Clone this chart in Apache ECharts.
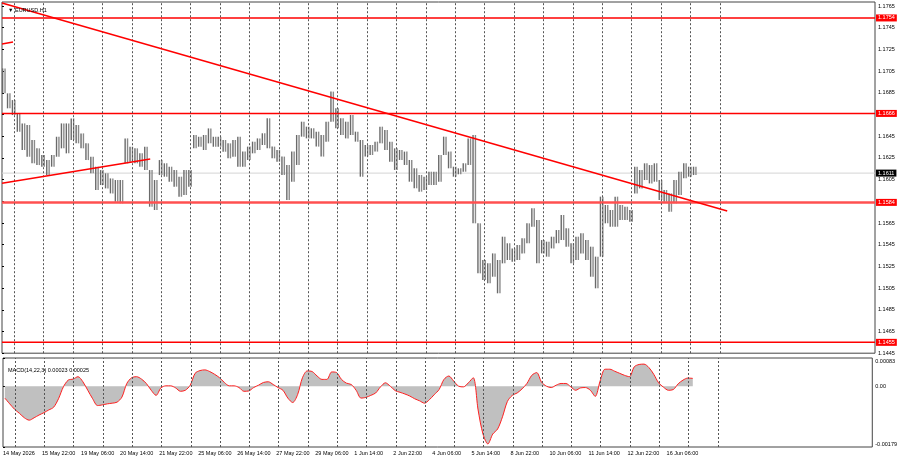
<!DOCTYPE html>
<html>
<head>
<meta charset="utf-8">
<script src="https://cdn.jsdelivr.net/npm/echarts@6/dist/echarts.min.js"></script>
<style>
  html, body { margin: 0; padding: 0; background: #fff; }
  #chart { width: 900px; height: 460px; }
</style>
</head>
<body>
<div id="chart"></div>
<script>
// EURUSD H1 in 4-bar blocks (high / low of each block)
const blockHigh = [
  1.17075, 1.16845, 1.16783, 1.16661, 1.16568, 1.16553, 1.16415, 1.16338, 1.16277, 1.16230,
  1.16277, 1.16445, 1.16568, 1.16568, 1.16614, 1.16553, 1.16476, 1.16384, 1.16261, 1.16169,
  1.16138, 1.16108, 1.16061, 1.16046, 1.16046, 1.16430, 1.16353, 1.16338, 1.16292, 1.16353,
  1.16138, 1.16046, 1.16230, 1.16200, 1.16169, 1.16138, 1.16077, 1.16138, 1.16138, 1.16461,
  1.16445, 1.16461, 1.16522, 1.16445, 1.16445, 1.16415, 1.16384, 1.16415, 1.16445, 1.16308,
  1.16354, 1.16400, 1.16430, 1.16477, 1.16615, 1.16354, 1.16323, 1.16262, 1.16185, 1.16308,
  1.16461, 1.16584, 1.16538, 1.16523, 1.16492, 1.16461, 1.16584, 1.16861, 1.16707, 1.16615,
  1.16584, 1.16646, 1.16492, 1.16415, 1.16369, 1.16369, 1.16400, 1.16538, 1.16507, 1.16400,
  1.16338, 1.16323, 1.16308, 1.16231, 1.16154, 1.16093, 1.16077, 1.16123, 1.16123, 1.16277,
  1.16446, 1.16308, 1.16169, 1.16154, 1.16200, 1.16430, 1.16461, 1.15647, 1.15309, 1.15278,
  1.15370, 1.15309, 1.15524, 1.15463, 1.15416, 1.15447, 1.15509, 1.15647, 1.15785, 1.15678,
  1.15493, 1.15478, 1.15524, 1.15585, 1.15724, 1.15601, 1.15463, 1.15524, 1.15555, 1.15493,
  1.15432, 1.15340, 1.15893, 1.15816, 1.15770, 1.15893, 1.15816, 1.15800, 1.15770, 1.16169,
  1.16138, 1.16200, 1.16184, 1.16200, 1.16046, 1.15954, 1.15923, 1.16046, 1.16123, 1.16200,
  1.16169, 1.16169
];
const blockLow = [
  1.16845, 1.16707, 1.16645, 1.16491, 1.16323, 1.16261, 1.16200, 1.16184, 1.16169, 1.16092,
  1.16169, 1.16261, 1.16338, 1.16292, 1.16415, 1.16384, 1.16338, 1.16230, 1.16108, 1.15954,
  1.16000, 1.15969, 1.15923, 1.15846, 1.15831, 1.16200, 1.16215, 1.16200, 1.16169, 1.16138,
  1.15800, 1.15770, 1.16092, 1.16077, 1.16031, 1.15985, 1.15892, 1.15908, 1.15985, 1.16338,
  1.16353, 1.16323, 1.16384, 1.16353, 1.16353, 1.16307, 1.16246, 1.16261, 1.16169, 1.16169,
  1.16231, 1.16292, 1.16323, 1.16369, 1.16338, 1.16246, 1.16215, 1.16093, 1.15862, 1.16031,
  1.16185, 1.16446, 1.16430, 1.16430, 1.16354, 1.16262, 1.16400, 1.16584, 1.16523, 1.16461,
  1.16430, 1.16461, 1.16400, 1.16077, 1.16262, 1.16277, 1.16308, 1.16384, 1.16323, 1.16215,
  1.16139, 1.16231, 1.16185, 1.16031, 1.15970, 1.15939, 1.15954, 1.16000, 1.16000, 1.16031,
  1.16277, 1.16154, 1.16077, 1.16099, 1.16123, 1.16185, 1.15647, 1.15186, 1.15125, 1.15094,
  1.15155, 1.15002, 1.15278, 1.15309, 1.15294, 1.15309, 1.15370, 1.15463, 1.15616, 1.15278,
  1.15370, 1.15340, 1.15416, 1.15463, 1.15493, 1.15432, 1.15278, 1.15309, 1.15370, 1.15309,
  1.15155, 1.15048, 1.15340, 1.15647, 1.15616, 1.15616, 1.15678, 1.15678, 1.15662, 1.15923,
  1.15969, 1.16046, 1.16015, 1.16031, 1.15862, 1.15847, 1.15754, 1.15831, 1.15908, 1.16062,
  1.16077, 1.16092
];
// MACD main line, same 4-bar blocks
const macdMain = [
  -0.00035, -0.00052, -0.00068, -0.00080, -0.00093, -0.00100, -0.00093, -0.00085, -0.00078, -0.00070,
  -0.00062, -0.00037, -0.00002, 0.00018, 0.00021, 0.00028, 0.00013, -0.00012, -0.00037, -0.00057,
  -0.00055, -0.00052, -0.00050, -0.00047, -0.00032, 0.00008, 0.00025, 0.00028, 0.00021, 0.00008,
  -0.00012, -0.00027, -0.00005, 0.00001, 0.00001, -0.00005, -0.00015, -0.00012, 0.00003, 0.00038,
  0.00046, 0.00048, 0.00043, 0.00035, 0.00025, 0.00011, 0.00001, 0.00001, -0.00004, -0.00015,
  -0.00014, -0.00004, 0.00003, 0.00011, 0.00013, 0.00005, -0.00004, -0.00012, -0.00035, -0.00048,
  -0.00025, 0.00025, 0.00045, 0.00043, 0.00030, 0.00020, 0.00020, 0.00042, 0.00040, 0.00020,
  0.00009, 0.00005, -0.00012, -0.00035, -0.00033, -0.00027, -0.00020, -0.00002, 0.00010, 0.00000,
  -0.00013, -0.00018, -0.00023, -0.00029, -0.00037, -0.00043, -0.00050, -0.00040, -0.00025, -0.00010,
  0.00020, 0.00030, 0.00015, 0.00000, -0.00002, 0.00010, 0.00025, -0.00070, -0.00141, -0.00170,
  -0.00141, -0.00126, -0.00090, -0.00045, -0.00027, -0.00020, -0.00008, 0.00008, 0.00032, 0.00040,
  0.00012, 0.00000, -0.00004, 0.00003, 0.00008, 0.00008, -0.00002, -0.00012, -0.00005, -0.00004,
  -0.00012, -0.00030, 0.00015, 0.00050, 0.00050, 0.00044, 0.00038, 0.00032, 0.00028, 0.00057,
  0.00064, 0.00065, 0.00055, 0.00035, 0.00010, -0.00003, -0.00012, -0.00010, 0.00007, 0.00018,
  0.00024, 0.00023
];
// one label every 32 H1 bars
const timeLabels = [
  '14 May 2026', '15 May 22:00', '19 May 06:00', '20 May 14:00', '21 May 22:00', '25 May 06:00',
  '26 May 14:00', '27 May 22:00', '29 May 06:00', '1 Jun 14:00', '2 Jun 22:00', '4 Jun 06:00',
  '5 Jun 14:00', '8 Jun 22:00', '10 Jun 06:00', '11 Jun 14:00', '12 Jun 22:00', '16 Jun 06:00'
];
// bar index of each day separator
const daySeparators = [10, 34, 58, 82, 106, 130, 154, 178, 202, 226, 250, 274, 298, 322, 346,
  370, 394, 418, 442, 466, 490, 514, 538, 562, 586];
const levels = [1.1754, 1.1666, 1.1584, 1.1455];
const lastPrice = 1.1611;
const macdLabel = 'MACD(14,22,3) 0.00023 0.00025';
// trend lines: [bar index, price]
const trendDown = [[0, 1.17678], [592, 1.15761]];
const trendUp = [[0, 1.16016], [121, 1.16240]];
const trendStub = [[0, 1.17300], [9, 1.17318]];

const BLOCK = 4;
const X_MAX = 712.65;
const FONT = 'Liberation Sans';
const SMALL = 5.5;

const bars = blockHigh.map((h, i) => [i * BLOCK + 1.5, blockLow[i], h]);
const macd = macdMain.map((v, i) => [i * BLOCK + 1.5, v]);

const chart = echarts.init(document.getElementById('chart'));

const sepLine = {
  silent: true,
  symbol: ['none', 'none'],
  label: { show: false },
  lineStyle: { type: [2, 2], color: '#555', width: 1 },
  data: daySeparators.map(v => ({ xAxis: v }))
};

// horizontal line across the pane with its price box on the scale
const hLine = (value, color, width, boxColor, z) => ({
  type: 'line', xAxisIndex: 0, yAxisIndex: 0, z: z, clip: false,
  data: [[0, value], [X_MAX, value]],
  symbol: 'none', silent: true,
  lineStyle: { color: color, width: width },
  endLabel: {
    show: true, distance: 1, formatter: value.toFixed(4),
    color: '#fff', backgroundColor: boxColor, padding: [1, 2, 0, 2],
    fontSize: SMALL, fontFamily: FONT
  }
});

const trendSeries = (data) => ({
  type: 'line', xAxisIndex: 0, yAxisIndex: 0, z: 5, silent: true,
  data: data, symbol: 'none', lineStyle: { color: '#ff0000', width: 1.5 }
});

chart.setOption({
  animation: false,
  backgroundColor: '#fff',
  title: [
    { text: '\u25BC EURUSD.H1', left: 3, top: 2,
      textStyle: { fontSize: SMALL, fontWeight: 'normal', color: '#000', fontFamily: FONT } },
    { text: macdLabel, left: 3, top: 362,
      textStyle: { fontSize: SMALL, fontWeight: 'normal', color: '#000', fontFamily: FONT } }
  ],
  grid: [
    { left: 2, right: 25, top: 2, height: 351.2, show: true, borderColor: '#444', borderWidth: 1 },
    { left: 2, right: 25, top: 358, height: 89, show: true, borderColor: '#444', borderWidth: 1 }
  ],
  xAxis: [
    { type: 'value', gridIndex: 0, min: 0, max: X_MAX, show: false, splitLine: { show: false } },
    {
      type: 'value', gridIndex: 1, min: 0, max: X_MAX, interval: 32,
      axisLine: { show: false }, axisTick: { show: false }, splitLine: { show: false },
      axisLabel: {
        show: true, align: 'left', margin: 3, fontSize: SMALL, fontFamily: FONT, color: '#000',
        showMaxLabel: false,
        formatter: v => timeLabels[v / 32] || ''
      }
    }
  ],
  yAxis: [
    {
      type: 'value', gridIndex: 0, position: 'right', min: 1.1445, max: 1.17687, interval: 0.002,
      splitLine: { show: false }, axisLine: { show: false },
      axisTick: { show: true, length: 2, lineStyle: { color: '#000' } },
      axisLabel: {
        margin: 3, fontSize: SMALL, fontFamily: FONT, color: '#000', showMaxLabel: false,
        formatter: v => v.toFixed(4)
      }
    },
    {
      type: 'value', gridIndex: 1, position: 'right', min: -0.00179, max: 0.00083, interval: 0.00179,
      splitLine: { show: false }, axisLine: { show: false },
      axisTick: { show: true, length: 2, lineStyle: { color: '#000' } },
      axisLabel: {
        margin: 3, fontSize: SMALL, fontFamily: FONT, color: '#000',
        verticalAlignMinLabel: 'bottom', verticalAlignMaxLabel: 'top',
        formatter: v => Math.abs(v) < 1e-9 ? '0.00' : v.toFixed(5)
      }
    }
  ],
  series: [
    hLine(lastPrice, '#d4d4d4', 1, '#000', 1),
    {
      name: 'price', type: 'custom', xAxisIndex: 0, yAxisIndex: 0, z: 2,
      data: bars,
      renderItem: (params, api) => {
        const hi = api.coord([api.value(0), api.value(2)]);
        const lo = api.coord([api.value(0), api.value(1)]);
        const line = (dx, c) => ({
          type: 'line',
          shape: { x1: hi[0] + dx, y1: hi[1], x2: lo[0] + dx, y2: Math.max(lo[1], hi[1] + 1) },
          style: { stroke: c, lineWidth: 1.4 }
        });
        return { type: 'group', children: [line(-1.2, '#6a6a6a'), line(1.2, '#8a8a8a')] };
      },
      markLine: sepLine
    },
    ...levels.map(v => v === 1.1584
      ? hLine(v, '#ff5050', 2.5, '#ff0000', 4)
      : hLine(v, '#ff0000', 1.5, '#ff0000', 4)),
    trendSeries(trendDown),
    trendSeries(trendUp),
    trendSeries(trendStub),
    {
      name: 'MACD', type: 'line', xAxisIndex: 1, yAxisIndex: 1,
      data: macd, symbol: 'none', smooth: 0.3,
      lineStyle: { color: '#ff2020', width: 1 },
      areaStyle: { color: '#c0c0c0', opacity: 1, origin: 0 },
      markLine: sepLine
    }
  ]
});
</script>
</body>
</html>
